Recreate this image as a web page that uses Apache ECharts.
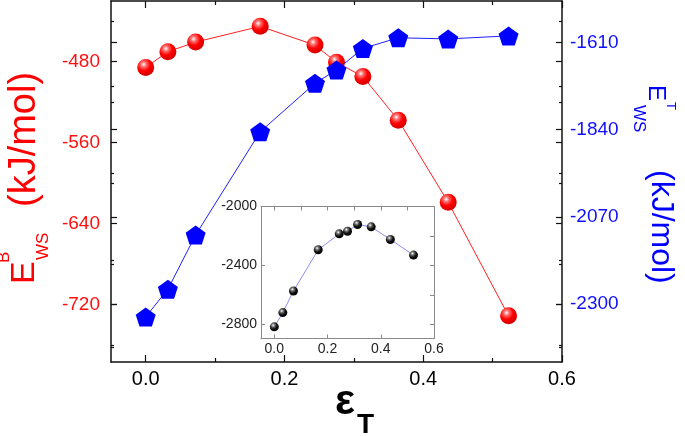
<!DOCTYPE html>
<html><head><meta charset="utf-8">
<script src="https://cdn.jsdelivr.net/npm/echarts@6/dist/echarts.min.js"></script>
<style>html,body{margin:0;padding:0;background:#fff}#c{width:685px;height:436px}</style>
</head><body><div id="c"></div>
<script>
// ---- data ----
const strain = [0, 0.032, 0.072, 0.165, 0.244, 0.275, 0.313, 0.364, 0.436, 0.523];
const ewsB = [-486, -470.5, -461, -445.5, -464, -481, -495, -538, -619, -731];
const ewsT = [-2334, -2261, -2118, -1846, -1718, -1683, -1626, -1598, -1601, -1593];
const insetE = [-2818, -2721, -2574, -2294, -2186, -2168, -2122, -2138, -2224, -2330];

const xTicks = [0, 0.2, 0.4, 0.6];
const xMinor = [0.1, 0.3, 0.5];
const leftTicks = [-480, -560, -640, -720];
const leftMinor = [-440, -520, -600, -680, -760];
const rightTicks = [-1610, -1840, -2070, -2300];
const rightMinor = [-1725, -1955, -2185, -2415];
const insetXTicks = [0, 0.2, 0.4, 0.6];
const insetXMinor = [0.1, 0.3, 0.5];
const insetYTicks = [-2800, -2400, -2000];
const insetYMinor = [-2600, -2200];

const FONT = "'Liberation Sans', Arial, sans-serif";
const pair = (xs, ys) => xs.map((x, i) => [x, ys[i]]);

function ax(o) {
  return {
    type: 'value', gridIndex: o.grid, position: o.pos, offset: 0,
    min: o.min, max: o.max,
    axisLine: { show: !!o.line, onZero: false, lineStyle: { color: o.lineColor || '#111', width: o.lineWidth || 1.5 } },
    axisTick: { show: true, inside: true, length: o.len, customValues: o.ticks,
      lineStyle: { color: o.lineColor || '#111', width: o.tickWidth || 1.2 } },
    axisLabel: o.labels ? Object.assign({ show: true, customValues: o.labels, fontFamily: FONT,
      formatter: o.fmt }, o.labelStyle) : { show: false },
    splitLine: { show: false }
  };
}

const XR = [-0.05, 0.6], LR = [-776.5, -420.5], RR = [-2453, -1501];
const IXR = [-0.05, 0.6], IYR = [-2897, -2000];

const xAxes = [
  ax({grid:0,pos:'bottom',min:XR[0],max:XR[1],line:true,len:7,ticks:xTicks,labels:xTicks,
      fmt:v=>v.toFixed(1),labelStyle:{fontSize:20,color:'#000',margin:7}}),
  ax({grid:0,pos:'bottom',min:XR[0],max:XR[1],len:4,ticks:xMinor}),
  ax({grid:0,pos:'top',min:XR[0],max:XR[1],line:true,len:7,ticks:xTicks}),
  ax({grid:0,pos:'top',min:XR[0],max:XR[1],len:4,ticks:xMinor}),
  ax({grid:1,pos:'bottom',min:IXR[0],max:IXR[1],line:true,lineColor:'#8a8a8a',lineWidth:1,tickWidth:1,len:4,ticks:insetXTicks,labels:insetXTicks,
      fmt:v=>v.toFixed(1),labelStyle:{fontSize:14,color:'#222',margin:4}}),
  ax({grid:1,pos:'top',min:IXR[0],max:IXR[1],line:true,lineColor:'#8a8a8a',lineWidth:1,tickWidth:1,len:4,ticks:insetXTicks.concat(insetXMinor)})
];
const yAxes = [
  ax({grid:0,pos:'left',min:LR[0],max:LR[1],line:true,len:6,ticks:leftTicks,labels:leftTicks,
      fmt:v=>String(v),labelStyle:{fontSize:19,color:'#ff1010',margin:11}}),          // 0
  ax({grid:0,pos:'left',min:LR[0],max:LR[1],len:3,ticks:leftMinor}),                 // 1
  ax({grid:0,pos:'right',min:RR[0],max:RR[1],line:true,len:6,ticks:rightTicks,labels:rightTicks,
      fmt:v=>String(v),labelStyle:{fontSize:19,color:'#1010ff',margin:8}}),           // 2
  ax({grid:0,pos:'right',min:RR[0],max:RR[1],len:3,ticks:rightMinor}),                // 3
  ax({grid:0,pos:'right',min:LR[0],max:LR[1],len:6,ticks:leftTicks}),                 // 4
  ax({grid:0,pos:'right',min:LR[0],max:LR[1],len:3,ticks:leftMinor}),                 // 5
  ax({grid:0,pos:'left',min:RR[0],max:RR[1],len:6,ticks:rightTicks}),                 // 6
  ax({grid:0,pos:'left',min:RR[0],max:RR[1],len:3,ticks:rightMinor}),                 // 7
  ax({grid:1,pos:'left',min:IYR[0],max:IYR[1],line:true,lineColor:'#8a8a8a',lineWidth:1,tickWidth:1,len:4,ticks:insetYTicks,labels:insetYTicks,
      fmt:v=>String(v),labelStyle:{fontSize:14,color:'#222',margin:4}}),             // 8
  ax({grid:1,pos:'right',min:IYR[0],max:IYR[1],line:true,lineColor:'#8a8a8a',lineWidth:1,tickWidth:1,len:4,ticks:insetYTicks.concat(insetYMinor)}) // 9
];

const redBall = { type:'radial', x:0.38, y:0.32, r:0.7, colorStops:[
  {offset:0,color:'#ffffff'},{offset:0.22,color:'#ff7070'},{offset:0.55,color:'#ff0000'},{offset:1,color:'#d00000'}]};
const blackBall = { type:'radial', x:0.38, y:0.32, r:0.7, colorStops:[
  {offset:0,color:'#ffffff'},{offset:0.25,color:'#777777'},{offset:0.6,color:'#111111'},{offset:1,color:'#000000'}]};
const pentagon = 'path://M0,-1L0.951,-0.309L0.588,0.809L-0.588,0.809L-0.951,-0.309Z';

const title = (x, y, rot, color, parts) => ({
  type:'group', x:x, y:y, rotation:rot,
  children: parts.map(p => ({ type:'text', x:p[1], y:p[2],
    style:{ text:p[0], fontSize:p[3], fontFamily:FONT, fontWeight:p[4]||'normal', fill:color, align:'left', verticalAlign:'middle' } }))
});

const option = {
  animation:false,
  backgroundColor:'#fff',
  grid:[
    {left:111, top:1, width:451, height:361},
    {left:261, top:206.5, width:173, height:132}
  ],
  xAxis:xAxes,
  yAxis:yAxes,
  series:[
    { type:'line', xAxisIndex:0, yAxisIndex:0, data:pair(strain, ewsB), symbol:'circle', symbolSize:17,
      lineStyle:{color:'#ff2020', width:1}, itemStyle:{color:redBall}, z:3 },
    { type:'line', xAxisIndex:0, yAxisIndex:2, data:pair(strain, ewsT), symbol:pentagon, symbolSize:[20,19],
      lineStyle:{color:'#2020ff', width:1}, itemStyle:{color:'#0000ff'}, z:4 },
    { type:'line', xAxisIndex:4, yAxisIndex:8, data:pair(strain, insetE), symbol:'circle', symbolSize:9,
      lineStyle:{color:'#8c8cf0', width:1}, itemStyle:{color:blackBall}, z:5 }
  ],
  graphic:[
    title(37, 284, Math.PI/2, '#ff0000', [
      ['E', 0, -12, 34], ['B', 21, -33, 17], ['WS', 24, 6.5, 17], ['(kJ/mol)', 77, -12, 38]
    ]),
    title(647, 85, -Math.PI/2, '#0000ff', [
      ['E', 0, -8.5, 24], ['T', 17, -24, 13], ['WS', 20, 8.5, 17], ['(kJ/mol)', 85, -13.5, 32]
    ]),
    title(335, 402, 0, '#000000', [
      ['ε', 0, 0, 42, 'bold'], ['T', 22, 23, 28, 'bold']
    ])
  ]
};
const chart = echarts.init(document.getElementById('c'), null, {renderer:'canvas'});
chart.setOption(option);
</script>
</body></html>
